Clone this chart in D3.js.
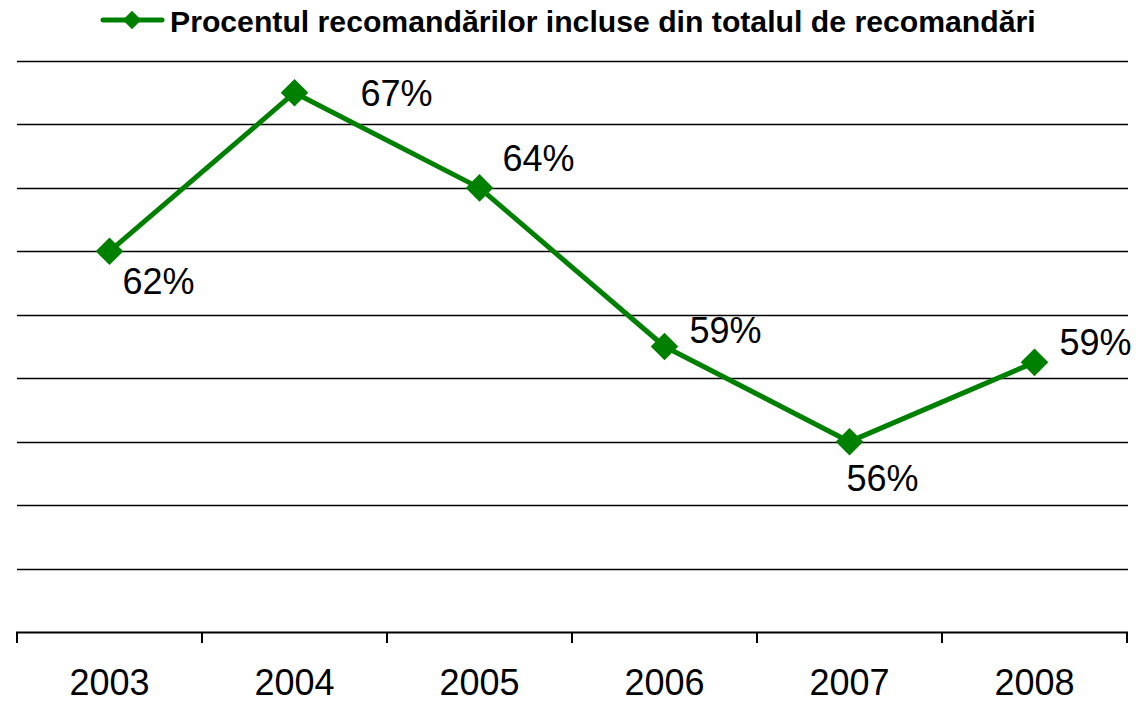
<!DOCTYPE html>
<html><head><meta charset="utf-8">
<script src="https://cdn.jsdelivr.net/npm/d3@7"></script>
<style>html,body{margin:0;padding:0;background:#fff;}svg{display:block;font-family:Arial,"Liberation Sans",sans-serif;}</style>
</head><body>
<svg id="c" width="1138" height="701"></svg>
<script>
const years = ["2003","2004","2005","2006","2007","2008"];
const values = [62, 67, 64, 59, 56, 58.5];
const seriesName = "Procentul recomandărilor incluse din totalul de recomandări";
const yTicks = [50,52,54,56,58,60,62,64,66,68];
// label placement offsets (layout only)
const labelOffsets = [[13,43],[66,13],[23,-17],[25,-4],[-3,49],[25,-7]];

(function(){
const svg = d3.select("#c");
const pLeft = 17, pRight = 1127, pTop = 61, pBottom = 632;
const x = d3.scaleBand().domain(years).range([pLeft, pRight]);
const y = d3.scaleLinear().domain([50, 68]).range([pBottom, pTop]);
const green = "#008000";

// gridlines
svg.append("g").selectAll("line").data(yTicks.slice(1)).join("line")
  .attr("x1", pLeft).attr("x2", pRight+1)
  .attr("y1", d => Math.round(y(d))+0.5).attr("y2", d => Math.round(y(d))+0.5)
  .attr("stroke", "#000").attr("stroke-width", 1.5);

// x axis
const xAxis = d3.axisBottom(x).tickSize(0).tickPadding(0);
const gx = svg.append("g").attr("transform", `translate(0,${pBottom})`).call(xAxis);
gx.select(".domain").remove();
gx.selectAll("text").attr("font-size", 36).attr("fill", "#000")
  .attr("font-family", "Arial, 'Liberation Sans', sans-serif").attr("dy", null).attr("y", 62.5);
svg.append("line").attr("x1", pLeft-1).attr("x2", pRight+1).attr("y1", pBottom+0.5).attr("y2", pBottom+0.5)
  .attr("stroke", "#000").attr("stroke-width", 2);
const bounds = years.map(d => x(d)).concat([x(years[years.length-1]) + x.bandwidth()]);
svg.append("g").selectAll("line").data(bounds).join("line")
  .attr("x1", d => Math.round(d)).attr("x2", d => Math.round(d))
  .attr("y1", pBottom).attr("y2", pBottom+11).attr("stroke", "#000").attr("stroke-width", 2);

// line
const cx = d => x(d) + x.bandwidth()/2;
svg.append("path").datum(values.map((v,i)=>[cx(years[i]), y(v)]))
  .attr("d", d3.line()).attr("fill", "none").attr("stroke", green).attr("stroke-width", 5)
  .attr("stroke-linejoin", "round");

const diamond = d3.symbol().type(d3.symbolSquare).size(380);
svg.append("g").selectAll("path").data(values).join("path")
  .attr("d", diamond)
  .attr("transform", (v,i) => `translate(${cx(years[i])},${y(v)}) rotate(45)`)
  .attr("fill", green);

// labels
svg.append("g").selectAll("text").data(values).join("text")
  .attr("x", (v,i) => cx(years[i]) + labelOffsets[i][0])
  .attr("y", (v,i) => y(v) + labelOffsets[i][1])
  .attr("font-size", 36).attr("fill", "#000")
  .text(v => Math.round(v) + "%");

// legend
const lg = svg.append("g");
lg.append("line").attr("x1", 103).attr("x2", 162).attr("y1", 20).attr("y2", 20)
  .attr("stroke", green).attr("stroke-width", 5).attr("stroke-linecap", "round");
lg.append("path").attr("d", d3.symbol().type(d3.symbolSquare).size(170))
  .attr("transform", "translate(132,20) rotate(45)").attr("fill", green);
lg.append("text").attr("x", 170).attr("y", 32).attr("font-size", 30.2).attr("font-weight", "bold")
  .attr("fill", "#000").text(seriesName);
})();
</script>
</body></html>
